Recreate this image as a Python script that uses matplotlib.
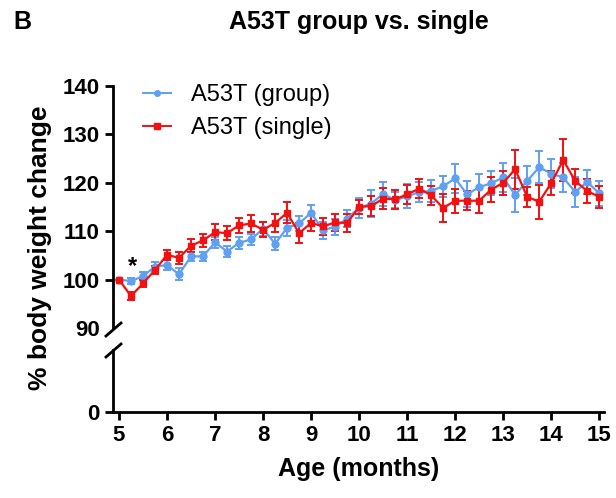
import matplotlib.pyplot as plt
from matplotlib.lines import Line2D
import numpy as np

plt.rcParams['font.family'] = ['Liberation Sans', 'DejaVu Sans']

# ages in months, one point every week-ish (0.25 month)
age = np.arange(5, 15.01, 0.25)

group_mean = [100.0, 99.7, 100.7, 102.7, 103.0, 101.1, 104.8, 104.8, 107.7, 105.8,
              107.6, 108.3, 110.5, 107.4, 110.7, 111.6, 113.8, 110.2, 110.9, 112.6,
              114.8, 115.7, 117.7, 116.4, 117.2, 118.1, 118.3, 119.3, 120.9, 117.6,
              119.1, 119.9, 121.1, 117.5, 120.4, 123.2, 121.9, 121.1, 118.1, 120.2,
              117.8]
group_sem = [0.0, 0.7, 0.8, 1.0, 1.0, 1.2, 1.0, 1.0, 1.2, 1.2,
             1.2, 1.2, 1.4, 1.3, 1.6, 1.5, 1.6, 1.8, 1.7, 1.8,
             2.0, 2.8, 2.5, 1.7, 2.5, 2.0, 2.2, 2.2, 3.0, 2.7,
             2.8, 2.5, 3.0, 3.5, 3.0, 3.3, 3.0, 3.0, 3.0, 2.5,
             2.5]

single_mean = [100.0, 96.6, 99.2, 102.0, 105.1, 104.5, 107.0, 108.1, 109.8, 109.6,
               111.2, 111.6, 110.3, 111.7, 113.8, 109.6, 111.7, 111.0, 111.8, 111.7,
               115.0, 115.2, 116.7, 116.6, 117.6, 118.8, 117.4, 114.8, 116.3, 116.3,
               116.3, 118.6, 120.0, 122.8, 117.1, 116.1, 119.9, 124.7, 120.4, 118.3,
               117.1]
single_sem = [0.0, 0.8, 0.8, 0.9, 1.0, 1.2, 1.3, 1.3, 1.7, 1.5,
              1.6, 1.8, 1.5, 1.8, 2.2, 2.0, 1.6, 1.7, 1.8, 1.8,
              1.5, 2.0, 2.2, 2.0, 2.0, 2.0, 2.0, 2.8, 2.5, 2.0,
              2.5, 2.5, 2.5, 4.0, 2.0, 3.5, 2.5, 4.3, 2.5, 2.5,
              2.3]

blue = '#5fa0f2'
red = '#f21010'

fig = plt.figure(figsize=(6.16, 4.98), dpi=100)
left = 113 / 616
width = (604 - 113) / 616
ax = fig.add_axes([left, 1 - 328 / 498, width, (328 - 86) / 498])
ax_low = fig.add_axes([left, 1 - 412 / 498, width, (412 - 350) / 498], sharex=ax)

ax.errorbar(age, group_mean, yerr=group_sem, color=blue, marker='o', ms=5, lw=1.6,
            elinewidth=1.4, capsize=3, capthick=1.4)
ax.errorbar(age, single_mean, yerr=single_sem, color=red, marker='s', ms=5, lw=1.6,
            elinewidth=1.4, capsize=3, capthick=1.4)
ax.text(5.28, 102.8, '*', fontsize=17, fontweight='bold', ha='center', va='center')

ax.set_ylim(90, 140)
ax.set_yticks([90, 100, 110, 120, 130, 140])
ax.set_xlim(4.875, 15.1)
ax_low.set_ylim(0, 12.9)
ax_low.set_yticks([0])
ax_low.set_xticks(range(5, 16))

for a in (ax, ax_low):
    a.spines['right'].set_visible(False)
    a.spines['top'].set_visible(False)
    a.spines['left'].set_linewidth(2)
    a.spines['bottom'].set_linewidth(2)
    a.tick_params(width=2, length=6, labelsize=16)
    for lab in a.get_yticklabels() + a.get_xticklabels():
        lab.set_fontweight('bold')
ax.spines['bottom'].set_visible(False)
ax.tick_params(axis='x', bottom=False, labelbottom=False)
ax.yaxis.get_major_ticks()[0].tick1line.set_visible(False)

# break marks on the y axis
kw = dict(color='black', lw=2, clip_on=False, transform=fig.transFigure)
for yb in (330, 351):
    fig.add_artist(Line2D([106 / 616, 121 / 616],
                          [1 - (yb + 6) / 498, 1 - (yb - 7) / 498], **kw))

handles = [Line2D([], [], color=blue, marker='o', ms=4, lw=1.4),
           Line2D([], [], color=red, marker='s', ms=4, lw=1.4)]
ax.legend(handles, ['A53T (group)', 'A53T (single)'], loc='upper left',
          bbox_to_anchor=(0.017, 1.095), frameon=False, fontsize=17,
          handlelength=1.2, handletextpad=0.85, labelspacing=0.45)

fig.text(0.5 * (left + left + width), 1 - 22 / 498, 'A53T group vs. single',
         fontsize=18, fontweight='bold', ha='center', va='center')
fig.text(22 / 616, 1 - 22 / 498, 'B', fontsize=18, fontweight='bold',
         ha='center', va='center')
fig.text(40 / 616, 1 - 248 / 498, '% body weight change', fontsize=19,
         fontweight='bold', rotation=90, ha='center', va='center')
ax_low.set_xlabel('Age (months)', fontsize=18, fontweight='bold', labelpad=8)

fig.savefig('out.png', dpi=100)
